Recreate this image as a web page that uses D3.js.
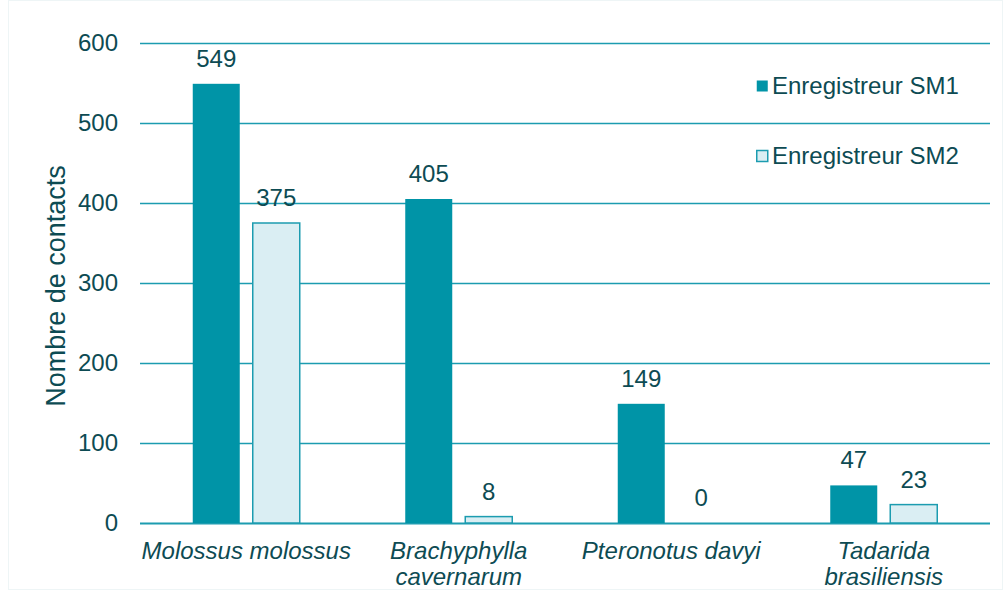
<!DOCTYPE html>
<html>
<head>
<meta charset="utf-8">
<script src="https://cdn.jsdelivr.net/npm/d3@7"></script>
<style>
  body { margin: 0; background: #fff; }
  svg { font-family: "Liberation Sans", Arial, sans-serif; }
</style>
</head>
<body>
<svg width="1004" height="591"></svg>
<script>
var species = [["Molossus molossus"], ["Brachyphylla", "cavernarum"], ["Pteronotus davyi"], ["Tadarida", "brasiliensis"]];
var seriesNames = ["Enregistreur SM1", "Enregistreur SM2"];
var sm1 = [549, 405, 149, 47];
var sm2 = [375, 8, 0, 23];
var yTicks = [0, 100, 200, 300, 400, 500, 600];

var svg = d3.select("svg"),
  margin = {top: 43, right: 14, bottom: 68, left: 140},
  width = +svg.attr("width") - margin.left - margin.right,
  height = +svg.attr("height") - margin.top - margin.bottom,
  g = svg.append("g").attr("transform", "translate(" + margin.left + "," + margin.top + ")");

var textColor = "#0d4b53", gridColor = "#1c9cb0";
var fills = ["#0094a7", "#daeef3"];
var fs = 24;

svg.append("rect")
  .attr("x", 8.5).attr("y", 0.5).attr("width", 994).attr("height", 589)
  .attr("fill", "none").attr("stroke", "#eef5f6");

var x = d3.scaleBand().domain(d3.range(species.length)).range([0, width]);
var y = d3.scaleLinear().domain([0, 600]).range([height, 0]);

// gridlines
g.append("g")
  .selectAll("line")
  .data(yTicks)
  .enter().append("line")
    .attr("x1", 0).attr("x2", width)
    .attr("y1", function(d) { return y(d) + 0.5; })
    .attr("y2", function(d) { return y(d) + 0.5; })
    .attr("stroke", gridColor)
    .attr("stroke-width", function(d) { return d === 0 ? 2 : 1.3; });

// y tick labels
g.append("g")
  .selectAll("text")
  .data(yTicks)
  .enter().append("text")
    .attr("x", -22)
    .attr("y", function(d) { return y(d); })
    .attr("dy", "0.35em")
    .attr("text-anchor", "end")
    .attr("font-size", fs)
    .attr("fill", textColor)
    .text(function(d) { return d; });

svg.append("text")
  .attr("transform", "translate(65,286) rotate(-90)")
  .attr("text-anchor", "middle")
  .attr("font-size", 27)
  .attr("fill", textColor)
  .text("Nombre de contacts");

var barW = 47, gap = 13;
var series = [sm1, sm2];

series.forEach(function(vals, s) {
  var off = s === 0 ? -gap / 2 - barW : gap / 2;
  var bars = g.append("g");
  bars.selectAll("rect")
    .data(vals)
    .enter().append("rect")
      .attr("x", function(d, i) { return x(i) + x.bandwidth() / 2 + off; })
      .attr("y", function(d) { return y(d); })
      .attr("width", barW)
      .attr("height", function(d) { return y(0) - y(d); })
      .attr("fill", fills[s])
      .attr("stroke", s === 1 ? gridColor : "none")
      .attr("stroke-width", 1.5);
  bars.selectAll("text")
    .data(vals)
    .enter().append("text")
      .attr("x", function(d, i) { return x(i) + x.bandwidth() / 2 + off + barW / 2; })
      .attr("y", function(d) { return y(d) - 17; })
      .attr("text-anchor", "middle")
      .attr("font-size", fs)
      .attr("fill", textColor)
      .text(function(d) { return d; });
});

// category labels, one text per line
var cat = g.append("g")
  .selectAll("g")
  .data(species)
  .enter().append("g")
    .attr("transform", function(d, i) { return "translate(" + (x(i) + x.bandwidth() / 2) + "," + (height + 36) + ")"; });
cat.selectAll("text")
  .data(function(d) { return d; })
  .enter().append("text")
    .attr("y", function(d, i) { return i * 26; })
    .attr("text-anchor", "middle")
    .attr("font-size", fs)
    .attr("font-style", "italic")
    .attr("fill", textColor)
    .text(function(d) { return d; });

// legend
var legend = svg.append("g")
  .selectAll("g")
  .data(seriesNames)
  .enter().append("g")
    .attr("transform", function(d, i) { return "translate(756," + (86 + i * 70) + ")"; });

legend.append("rect")
  .attr("x", 0.75).attr("y", -5.5)
  .attr("width", 11).attr("height", 11)
  .attr("fill", function(d, i) { return fills[i]; })
  .attr("stroke", function(d, i) { return i === 1 ? gridColor : "none"; })
  .attr("stroke-width", 1.5);

legend.append("text")
  .attr("x", 16)
  .attr("dy", "0.35em")
  .attr("font-size", fs)
  .attr("fill", textColor)
  .text(function(d) { return d; });
</script>
</body>
</html>
